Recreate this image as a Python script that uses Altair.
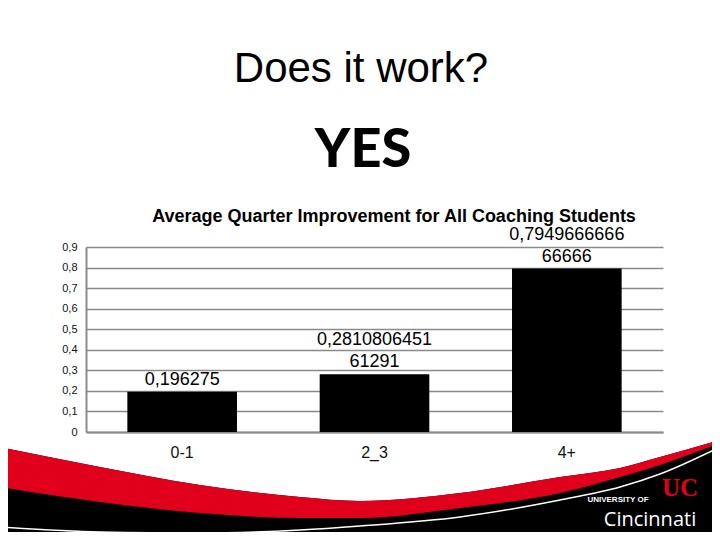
import altair as alt
import pandas as pd

# ---- data ----
groups = ["0-1", "2_3", "4+"]
values = [0.196275, 0.281080645161291, 0.794966666666666]
y_ticks = [0, 0.1, 0.2, 0.3, 0.4, 0.5, 0.6, 0.7, 0.8, 0.9]

slide_title = "Does it work?"
slide_answer = "YES"
chart_title = "Average Quarter Improvement for All Coaching Students"
logo_small = "UNIVERSITY OF"
logo_big = "Cincinnati"
logo_mark = "UC"

# decorative swoosh outline (slide pixel coordinates)
swoosh_x = [0, 100, 200, 300, 360, 460, 560, 620, 660, 720]
red_top = [447, 467, 485, 497, 501, 493, 477, 468, 457, 440]
red_bottom = [487, 502, 513, 518, 518, 508, 493, 477, 465, 443]
white_line = [527, 532, 533, 530, 526, 517, 500, 487, 474, 447]


def split_label(v, n=12):
    s = repr(v).replace(".", ",")
    return [s[i:i + n] for i in range(0, len(s), n)]


parts = [split_label(v) for v in values]
last_line = [p[-1] for p in parts]
first_line = [p[0] if len(p) > 1 else "" for p in parts]

df = pd.DataFrame({"group": groups, "value": values,
                   "line1": first_line, "line2": last_line})
deco = pd.DataFrame({"x": swoosh_x, "red_top": red_top,
                     "red_bottom": red_bottom, "white": white_line})

FONT = "Liberation Sans"
GRID = "#8a8a8a"

# ---- bars ----
xenc = alt.X("group:N", sort=groups,
             scale=alt.Scale(paddingInner=0.43, paddingOuter=0.215),
             axis=alt.Axis(title=None, labelAngle=0, ticks=False,
                           domainColor=GRID, domainWidth=2,
                           labelFont=FONT, labelFontSize=16,
                           labelColor="#111111", labelPadding=12, grid=False))
yenc = alt.Y("value:Q", scale=alt.Scale(domain=[0, 0.9], nice=False, zero=True),
             axis=alt.Axis(title=None, values=y_ticks, ticks=False,
                           labelOverlap=False,
                           labelExpr="datum.value == 0 ? '0' : replace(format(datum.value, '.1f'), '.', ',')",
                           domainColor=GRID, domainWidth=2,
                           gridColor=GRID, gridWidth=1.5, grid=True,
                           labelFont=FONT, labelFontSize=11,
                           labelColor="#111111", labelPadding=9))

base = alt.Chart(df)
bars = base.mark_bar(color="black").encode(x=xenc, y=yenc)
label_bottom = base.mark_text(font=FONT, fontSize=18, color="black",
                              baseline="bottom", dy=-3).encode(
    x=xenc, y=yenc, text="line2:N")
label_top = base.mark_text(font=FONT, fontSize=18, color="black",
                           baseline="bottom", dy=-25).encode(
    x=xenc, y=yenc, text="line1:N")
bar_layer = alt.layer(bars, label_bottom, label_top)

# ---- decoration ----
dx = alt.X("x:Q", scale=alt.Scale(domain=[0, 720], range=[-86, 634], nice=False, zero=False), axis=None)
ysc = alt.Scale(domain=[0, 540], range=[-247, 293], nice=False, zero=False)
dbase = alt.Chart(deco)
black_area = dbase.mark_area(color="black", interpolate="monotone").encode(
    x=dx, y=alt.Y("red_top:Q", scale=ysc, axis=None), y2=alt.datum(540))
red_area = dbase.mark_area(color="#e0001b", interpolate="monotone").encode(
    x=dx, y=alt.Y("red_top:Q", scale=ysc, axis=None), y2="red_bottom:Q")
white_curve = dbase.mark_line(color="white", strokeWidth=1.5, interpolate="monotone").encode(
    x=dx, y=alt.Y("white:Q", scale=ysc, axis=None))
deco_layer = alt.layer(black_area, red_area, white_curve)


# ---- texts ----
def text_layer(txt, x, y, **kw):
    return alt.Chart(pd.DataFrame({"t": [txt]})).mark_text(**kw).encode(
        text="t:N", x=alt.value(x), y=alt.value(y))


t1 = text_layer(slide_title, 275, -165, font=FONT, fontSize=42, color="black",
                align="center", baseline="alphabetic")
t2 = text_layer(slide_answer, 277, -80, font="Lato", fontSize=54, fontWeight=900,
                color="black", align="center", baseline="alphabetic")
t3 = text_layer(chart_title, 308, -25, font=FONT, fontSize=18, fontWeight="bold",
                color="black", align="center", baseline="alphabetic")
t4 = text_layer(logo_small, 532, 255, font=FONT, fontSize=8, fontWeight="bold",
                color="white", align="center", baseline="alphabetic")
t5 = text_layer(logo_big, 564, 279, font="Open Sans", fontSize=20,
                color="white", align="center", baseline="alphabetic")
t6 = text_layer(logo_mark, 594, 249, font="Liberation Serif", fontSize=25,
                fontWeight="bold", color="#e0001b", align="center",
                baseline="alphabetic")

chart = alt.layer(deco_layer, bar_layer, t1, t2, t3, t4, t5, t6).resolve_scale(
    x="independent", y="independent"
).properties(
    width=577, height=185,
    padding={"left": 78, "top": 239, "right": 49, "bottom": 100},
    autosize=alt.AutoSizeParams(type="none"),
    background="white",
).configure_view(stroke=None)

chart.save("out.html", embed_options={"renderer": "svg", "actions": False})
